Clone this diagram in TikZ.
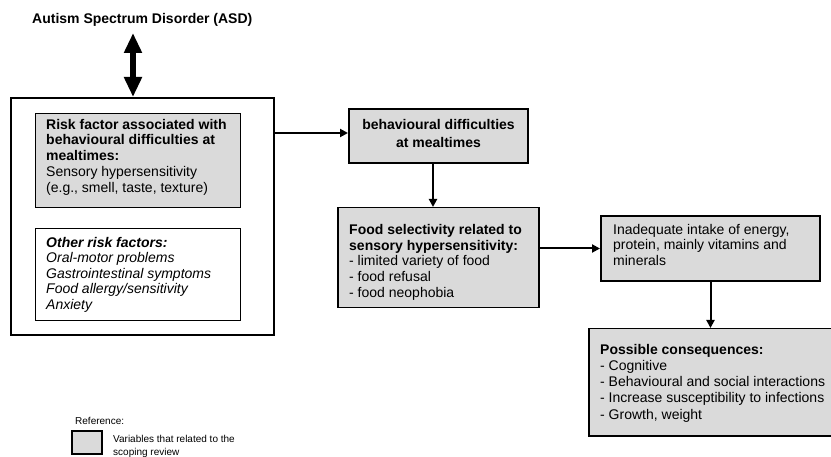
\documentclass[tikz,border=0pt]{standalone}
\usepackage{fontspec}
\setmainfont{Liberation Sans}
\usetikzlibrary{arrows.meta,calc}
\definecolor{boxgray}{RGB}{218,218,218}
\tikzset{
  box/.style={draw, rectangle, inner sep=0pt, anchor=north west},
  txt/.style={inner sep=0pt, anchor=north west, align=left},
  arr/.style={line width=2pt, -{Triangle[length=8pt,width=8pt]}},
}
\newcommand{\fs}[1]{\fontsize{14}{#1}\selectfont\lineskiplimit=-8pt}
\begin{document}
\begin{tikzpicture}[x=1pt,y=-1pt]
\useasboundingbox (0,0) rectangle (831,457);
\clip (0,0) rectangle (831,457);
\fill[white] (0,0) rectangle (831,457);

% title
\node[inner sep=0pt, anchor=west, font=\fs{16}\bfseries] (asd) at (32,20) {Autism Spectrum Disorder (ASD)};

% outer box
\node[box, line width=2pt, minimum width=263pt, minimum height=237pt] (outer) at (10,97) {};

% risk factor box
\node[box, fill=boxgray, line width=1pt, minimum width=205pt, minimum height=94pt] (rf) at (35,113) {};
\node[txt, font=\fs{15.8}] (rft) at (46,118.7) {\textbf{Risk factor associated with}\\\textbf{behavioural difficulties at}\\\textbf{mealtimes:}\\Sensory hypersensitivity\\(e.g., smell, taste, texture)};

% other risk factors box
\node[box, fill=white, line width=1pt, minimum width=205pt, minimum height=92pt] (orf) at (35,228) {};
\node[txt, font=\fs{15.5}\itshape] (orft) at (46,237) {\textbf{Other risk factors:}\\Oral-motor problems\\Gastrointestinal symptoms\\Food allergy/sensitivity\\Anxiety};

% behavioural difficulties
\node[box, fill=boxgray, line width=2pt, minimum width=179pt, minimum height=54pt] (bd) at (348,108) {};
\node[inner sep=0pt, align=center, font=\fs{18}\bfseries] (bdt) at ([yshift=3pt]bd.center) {behavioural difficulties\\at mealtimes};

% food selectivity
\node[box, fill=boxgray, line width=1.5pt, minimum width=201pt, minimum height=100pt] (fs) at (337,207) {};
\node[txt, font=\fs{15.7}] (fst) at (349,224) {\textbf{Food selectivity related to}\\\textbf{sensory hypersensitivity:}\\- limited variety of food\\- food refusal\\- food neophobia};

% inadequate intake
\node[box, fill=boxgray, line width=2pt, minimum width=219pt, minimum height=65pt] (ii) at (600,215) {};
\node[txt, font=\fs{15.5}] (iit) at (613,224) {Inadequate intake of energy,\\protein, mainly vitamins and\\minerals};

% consequences
\node[box, fill=boxgray, line width=1.5pt, minimum width=262pt, minimum height=107pt] (pc) at (588,328) {};
\node[txt, font=\fs{16.2}] (pct) at (600,344) {\textbf{Possible consequences:}\\- Cognitive\\- Behavioural and social interactions\\- Increase susceptibility to infections\\- Growth, weight};

% legend
\node[txt, font=\fontsize{10}{12}\selectfont] (reft) at (75,417.5) {Reference:};
\node[box, fill=boxgray, line width=1.8pt, minimum width=30pt, minimum height=23pt] (refbox) at (71,430) {};
\node[txt, font=\fontsize{10}{13}\selectfont] (refvar) at (113,435.3) {Variables that related to the\\scoping review};

% connectors
\coordinate (asdtop) at (133,33);
\draw[line width=6pt, {Triangle[length=20pt,width=17pt]}-{Triangle[length=20pt,width=17pt]}] (asdtop) -- (asdtop |- outer.north);
\draw[arr] ([yshift=3pt]bd.west -| outer.east) -- ([yshift=3pt]bd.west);
\draw[arr] ([xshift=-5.5pt]bd.south) -- ([xshift=-5.5pt]bd.south |- fs.north);
\draw[arr] (ii.west -| fs.east) -- (ii.west);
\draw[arr] (ii.south) -- (ii.south |- pc.north);
\end{tikzpicture}
\end{document}
